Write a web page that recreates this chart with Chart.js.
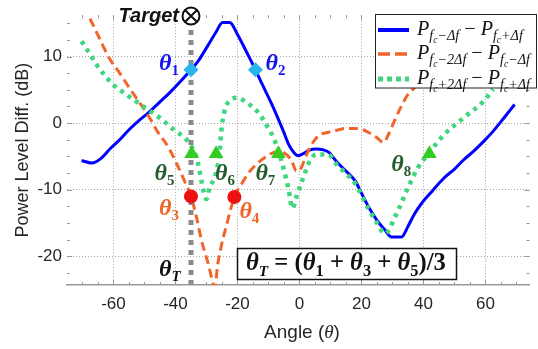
<!DOCTYPE html>
<html>
<head>
<meta charset="utf-8">
<script src="https://cdn.jsdelivr.net/npm/chart.js@4.4.0/dist/chart.umd.min.js"></script>
<style>
  html, body { margin: 0; padding: 0; background: #fff; }
  #wrap { width: 538px; height: 349px; }
</style>
</head>
<body>
<div id="wrap"><canvas id="myChart" width="538" height="349"></canvas></div>
<script>
// axis ticks
var xTicks = [-60, -40, -20, 0, 20, 40, 60];
var yTicks = [-20, -10, 0, 10];

// P(fc-df) - P(fc+df), solid blue
var blueX = [-70.3,-67,-64,-61,-58,-55,-52,-48.6,-45,-42,-38.5,-35,-32.7,-30,-27,-24.8,-22.5,-20,-17,-14.2,-12,-9.4,-7,-5.2,-3.5,-2,-0.4,1.5,3,5.4,7.5,9.5,12,15,18,20,22.3,25,27.5,29.7,32.9,35,37,39.3,43,46.7,50,53,56.2,59.5,62.5,66,69.4];
var blueY = [-5.6,-6,-5.3,-3.8,-2.5,-1,0.3,1.6,3.2,4.5,6.2,8,9.3,11.3,13.6,15.1,15.1,13.3,10.6,8,5.8,3.3,0.8,-1.2,-3.2,-4.3,-4.9,-4.5,-4.1,-3.9,-4,-4.4,-5.8,-7.2,-8.7,-10.5,-12.6,-14.6,-16,-17.1,-17.1,-15.5,-13.7,-12.1,-10.1,-8.2,-6.9,-5.5,-4.2,-2.7,-1.2,0.8,2.8];

// P(fc-2df) - P(fc-df), orange dashed
var orangeX = [-67.6,-64.5,-61.3,-58,-54.9,-51.5,-48.6,-45.9,-42.2,-39,-37,-35,-33.2,-31.6,-29.5,-27.2,-26.5,-25.3,-23.7,-21,-18.5,-16.8,-13,-10,-8.3,-6,-4,-2.5,-1,0.2,1.2,2.8,4.5,6.4,9,11.7,15,18,20.5,22.3,25,27.1,28.7,30.8,33,35,37.1,40,44];
var orangeY = [15.7,12.7,9.7,7.5,5.3,3,1.0,-1.2,-3.7,-6.7,-8.8,-11,-14.2,-17.6,-21,-24.6,-21.6,-18.6,-15.6,-11.1,-9,-7.7,-5.8,-4.8,-4.4,-4.3,-4.8,-5.7,-7.2,-7,-6,-4.2,-2.8,-1.8,-1.4,-1.1,-0.8,-0.8,-1,-1.4,-2.2,-2.9,-1.7,0.5,2.7,4.3,5.3,7,11];

// P(fc+2df) - P(fc+df), green dotted
var greenX = [-70.3,-67.5,-65.5,-62.5,-60.2,-56.5,-52.8,-49.5,-46.5,-43,-40,-37,-35,-33.5,-32.7,-31,-30,-29,-27.4,-26.3,-25.8,-25.3,-24.2,-22.1,-20,-16.8,-13.7,-10.5,-7.5,-5.2,-3.5,-2.3,-1,1.2,3.3,5.4,9.5,12,15,18,22.3,25,27.6,30.8,35,38.2,41.9,46.7,53,59.4,62.5];
var greenY = [12.3,10.3,8.8,7,5.8,4.5,3.3,2.2,1.3,0,-1.2,-2.2,-3.4,-4.8,-6.1,-10.1,-11.4,-9.7,-8.2,-6.2,-4.7,-1.5,1.8,3.5,3.8,3,1.8,-0.4,-3.2,-6.7,-10,-12.8,-11.1,-8.2,-5.7,-4.7,-4.8,-6.2,-7.6,-9.1,-12.9,-15,-16.6,-14.1,-9.7,-6.7,-4.4,-1.7,0.8,3.3,5.1];

// marked angles
var diamondX = [-35, -14.2];
var diamondY = [8, 8];
var diamondNames = ['1', '2'];
var circleX = [-35, -21];
var circleY = [-11, -11.1];
var circleNames = ['3', '4'];
var triangleX = [-34.8, -26.9, -6.8, 41.9];
var triangleY = [-4.6, -4.6, -4.6, -4.6];
var triangleNames = ['5', '6', '7', '8'];

// estimated target angle and the grey line under it
var targetAngle = -35;
var targetLineY = [-24.3, 14];

function pts(xs, ys) {
  return xs.map(function (x, i) { return { x: x, y: ys[i] }; });
}

var SERIF = '"Liberation Serif", "DejaVu Serif", serif';
var SANS = '"Liberation Sans", Arial, sans-serif';

// draws text pieces one after the other (used for subscripts)
function drawRuns(ctx, runs, x, y, k, measureOnly) {
  var x0 = x;
  runs.forEach(function (r) {
    ctx.font = r[1] + ' ' + (r[2] * k).toFixed(2) + 'px ' + (r[4] || SERIF);
    if (!measureOnly) ctx.fillText(r[0], x, y + r[3] * k);
    x += ctx.measureText(r[0]).width;
  });
  return x - x0;
}

function thetaRuns(sub) {
  return [['\u03b8', 'bold italic', 24, 0], [sub, sub === 'T' ? 'bold italic' : 'bold', 15, 5]];
}

function legendRuns(a, b) {
  return [
    ['P', 'italic', 17, 0], ['f', 'italic', 12, 4], ['c', 'italic', 8, 7], [a, 'italic', 12, 4],
    [' \u2212 ', 'normal', 17, 0],
    ['P', 'italic', 17, 0], ['f', 'italic', 12, 4], ['c', 'italic', 8, 7], [b, 'italic', 12, 4]
  ];
}

var annotations = {
  id: 'annotations',
  afterDatasetsDraw: function (chart) {
    var ctx = chart.ctx, xs = chart.scales.x, ys = chart.scales.y, a = chart.chartArea;
    ctx.save();

    // small ticks on the box
    ctx.strokeStyle = '#999';
    ctx.lineWidth = 1;
    ctx.beginPath();
    for (var v = -70; v <= 70; v += 5) {
      var px = Math.round(xs.getPixelForValue(v)) + 0.5;
      var len = v % 20 === 0 ? 5 : 3;
      ctx.moveTo(px, a.bottom); ctx.lineTo(px, a.bottom - len);
      ctx.moveTo(px, a.top); ctx.lineTo(px, a.top + len);
    }
    for (var w = -22.5; w <= 15; w += 2.5) {
      var py = Math.round(ys.getPixelForValue(w)) + 0.5;
      var l2 = w % 10 === 0 ? 5 : 3;
      ctx.moveTo(a.left, py); ctx.lineTo(a.left + l2, py);
      ctx.moveTo(a.right, py); ctx.lineTo(a.right - l2, py);
    }
    ctx.stroke();

    // Target marker
    var tx = xs.getPixelForValue(targetAngle), ty = 16;
    ctx.beginPath();
    ctx.arc(tx, ty, 8.5, 0, Math.PI * 2);
    ctx.fillStyle = '#fff';
    ctx.fill();
    ctx.lineWidth = 2;
    ctx.strokeStyle = '#111';
    ctx.stroke();
    ctx.beginPath();
    ctx.moveTo(tx - 6, ty - 6); ctx.lineTo(tx + 6, ty + 6);
    ctx.moveTo(tx + 6, ty - 6); ctx.lineTo(tx - 6, ty + 6);
    ctx.stroke();
    ctx.fillStyle = '#111';
    ctx.font = 'bold italic 20px ' + SANS;
    ctx.textAlign = 'right';
    ctx.textBaseline = 'middle';
    ctx.fillText('Target', tx - 12, ty);

    // theta labels
    ctx.textAlign = 'left';
    ctx.textBaseline = 'alphabetic';
    function label(sub, xv, yv, dx, dy, color) {
      ctx.fillStyle = color;
      drawRuns(ctx, thetaRuns(sub), xs.getPixelForValue(xv) + dx, ys.getPixelForValue(yv) + dy, 1);
    }
    label(diamondNames[0], diamondX[0], diamondY[0], -32, 0, '#1414f0');
    label(diamondNames[1], diamondX[1], diamondY[1], 10, 0, '#1414f0');
    label(circleNames[0], circleX[0], circleY[0], -32, 19, '#f0652a');
    label(circleNames[1], circleX[1], circleY[1], 5, 21, '#f0652a');
    label(triangleNames[0], triangleX[0], triangleY[0], -37, 26, '#245c2c');
    label(triangleNames[1], triangleX[1], triangleY[1], -1, 26, '#245c2c');
    label(triangleNames[2], triangleX[2], triangleY[2], -23, 26, '#245c2c');
    label(triangleNames[3], triangleX[3], triangleY[3], -38, 17, '#245c2c');
    ctx.fillStyle = '#111';
    drawRuns(ctx, thetaRuns('T'), tx - 32, 276, 1);

    // formula box
    ctx.fillStyle = '#fff';
    ctx.fillRect(237.5, 248.5, 219, 31);
    ctx.lineWidth = 1.5;
    ctx.strokeStyle = '#111';
    ctx.strokeRect(237.5, 248.5, 219, 31);
    var f = [
      ['\u03b8', 'bold italic', 21, 0], ['T', 'bold italic', 13, 5], [' = (', 'bold', 21, 0],
      ['\u03b8', 'bold italic', 21, 0], ['1', 'bold', 14, 5], [' + ', 'bold', 21, 0],
      ['\u03b8', 'bold italic', 21, 0], ['3', 'bold', 14, 5], [' + ', 'bold', 21, 0],
      ['\u03b8', 'bold italic', 21, 0], ['5', 'bold', 14, 5], [')/3', 'bold', 21, 0]
    ];
    var fk = 200 / drawRuns(ctx, f, 0, 0, 1, true);
    ctx.fillStyle = '#111';
    drawRuns(ctx, f, 246, 270, fk);

    // legend
    var lx = 375.5, ly = 14.5, lw = 161, lh = 73.5;
    ctx.fillStyle = '#fff';
    ctx.fillRect(lx, ly, lw, lh);
    ctx.lineWidth = 1;
    ctx.strokeStyle = '#222';
    ctx.strokeRect(lx, ly, lw, lh);
    var entries = [
      { runs: legendRuns('\u2212\u0394f', '+\u0394f'), color: '#0000ff', width: 4, dash: [] },
      { runs: legendRuns('\u22122\u0394f', '\u2212\u0394f'), color: '#f0652a', width: 3.5, dash: [12, 5] },
      { runs: legendRuns('+2\u0394f', '+\u0394f'), color: '#3fd67f', width: 5, dash: [5, 4] }
    ];
    var lk = 113 / drawRuns(ctx, entries[1].runs, 0, 0, 1, true);
    var rows = [30, 54, 79];
    entries.forEach(function (e, i) {
      ctx.save();
      ctx.beginPath();
      ctx.strokeStyle = e.color;
      ctx.lineWidth = e.width;
      ctx.setLineDash(e.dash);
      ctx.moveTo(378, rows[i]);
      ctx.lineTo(409, rows[i]);
      ctx.stroke();
      ctx.restore();
      ctx.fillStyle = '#111';
      drawRuns(ctx, e.runs, 417, rows[i] + 5, lk);
    });

    // x axis title
    var t = [['Angle (', 'normal', 19, 0, SANS], ['\u03b8', 'italic', 19, 0, SERIF], [')', 'normal', 19, 0, SANS]];
    var tw = drawRuns(ctx, t, 0, 0, 1, true);
    ctx.fillStyle = '#262626';
    drawRuns(ctx, t, 302 - tw / 2, 338, 1);

    ctx.restore();
  }
};

new Chart('myChart', {
  type: 'line',
  data: {
    datasets: [
      {
        data: pts(diamondX, diamondY), showLine: false, pointStyle: 'rectRot',
        pointRadius: 7.5, pointBackgroundColor: '#2bb5ef', pointBorderWidth: 0, order: 1
      },
      {
        data: pts(circleX, circleY), showLine: false, pointStyle: 'circle',
        pointRadius: 7, pointBackgroundColor: '#ee1111', pointBorderWidth: 0, order: 1
      },
      {
        data: pts(triangleX, triangleY), showLine: false, pointStyle: 'triangle',
        pointRadius: 8.5, pointBackgroundColor: '#33cc22', pointBorderWidth: 0, order: 1
      },
      {
        data: pts([targetAngle, targetAngle], targetLineY), borderColor: '#8a8a8a',
        borderWidth: 5, borderDash: [5, 5], pointRadius: 0, order: 2
      },
      {
        data: pts(greenX, greenY), borderColor: '#3fd67f', borderWidth: 4.5,
        borderDash: [4, 5], pointRadius: 0, cubicInterpolationMode: 'monotone', order: 3
      },
      {
        data: pts(orangeX, orangeY), borderColor: '#f0652a', borderWidth: 3,
        borderDash: [9, 5], pointRadius: 0, cubicInterpolationMode: 'monotone', order: 4
      },
      {
        data: pts(blueX, blueY), borderColor: '#0000ff', borderWidth: 3,
        pointRadius: 0, cubicInterpolationMode: 'monotone', order: 5
      }
    ]
  },
  options: {
    responsive: false,
    animation: false,
    events: [],
    layout: { padding: { top: 14, right: 1, left: 0, bottom: 0 } },
    plugins: { legend: { display: false }, tooltip: { enabled: false } },
    scales: {
      x: {
        type: 'linear', min: -75, max: 74.2,
        afterBuildTicks: function (s) { s.ticks = xTicks.map(function (v) { return { value: v }; }); },
        afterFit: function (s) { s.height = 64; },
        ticks: { font: { size: 17, family: SANS }, color: '#262626', padding: 9, maxRotation: 0 },
        grid: { color: '#a8a8a8', lineWidth: 1, drawTicks: false },
        border: { display: true, color: '#999', width: 1.5, dash: [1, 2] }
      },
      y: {
        type: 'linear', min: -24.3, max: 16.2,
        afterBuildTicks: function (s) { s.ticks = yTicks.map(function (v) { return { value: v }; }); },
        afterFit: function (s) { s.width = 67; },
        ticks: { font: { size: 17, family: SANS }, color: '#262626', padding: 5 },
        grid: { color: '#a8a8a8', lineWidth: 1, drawTicks: false },
        border: { display: false, dash: [1, 2] },
        title: {
          display: true, text: 'Power Level Diff. (dB)', color: '#262626',
          font: { size: 18, family: SANS }, padding: { top: 12, bottom: 0 }
        }
      }
    }
  },
  plugins: [annotations]
});
</script>
</body>
</html>
